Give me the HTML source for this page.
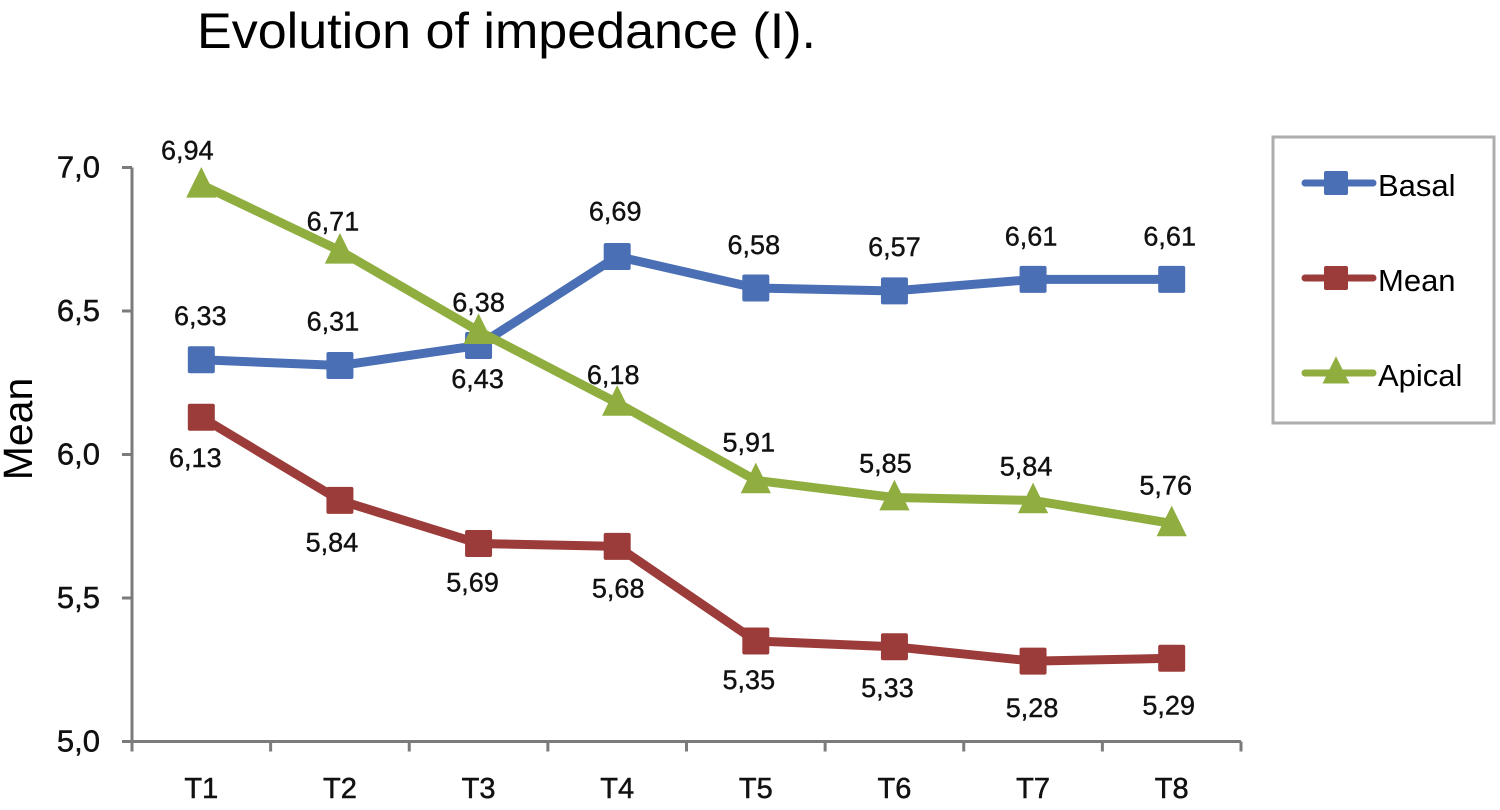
<!DOCTYPE html>
<html>
<head>
<meta charset="utf-8">
<style>
html,body{margin:0;padding:0;background:#fff;width:1500px;height:810px;overflow:hidden}
svg{display:block}
text{font-family:"Liberation Sans",sans-serif;fill:#000}
.lbl{font-size:27px;fill:#111;stroke:#111;stroke-width:0.4px;text-anchor:middle}
.tick{fill:#111;stroke:#111;stroke-width:0.5px}
</style>
</head>
<body>
<svg id="chart" width="1500" height="810" viewBox="0 0 1500 810">
<text x="197" y="48" font-size="50" textLength="619" lengthAdjust="spacingAndGlyphs">Evolution of impedance (I).</text>
<text transform="translate(32,429) rotate(-90)" font-size="41" text-anchor="middle">Mean</text>
<g id="plot"></g>
<rect x="1273" y="137" width="221" height="286" fill="#fff" stroke="#adadad" stroke-width="3"/>
<g id="legend"></g>
</svg>
<script>
var categories = ["T1","T2","T3","T4","T5","T6","T7","T8"];
var yTicks = [5.0,5.5,6.0,6.5,7.0];
var yTickLabels = ["5,0","5,5","6,0","6,5","7,0"];
var basalValues = [6.33,6.31,6.38,6.69,6.58,6.57,6.61,6.61];
var meanValues = [6.13,5.84,5.69,5.68,5.35,5.33,5.28,5.29];
var apicalValues = [6.94,6.71,6.43,6.18,5.91,5.85,5.84,5.76];
var basalLabels = ["6,33","6,31","6,38","6,69","6,58","6,57","6,61","6,61"];
var meanLabels = ["6,13","5,84","5,69","5,68","5,35","5,33","5,28","5,29"];
var apicalLabels = ["6,94","6,71","6,43","6,18","5,91","5,85","5,84","5,76"];

var NS = "http://www.w3.org/2000/svg";
var plot = document.getElementById("plot");
var legend = document.getElementById("legend");
var left = 132, right = 1241, top7 = 167.5, bottom5 = 741.5;
var band = (right - left) / categories.length;
function xPos(i){ return left + band * (i + 0.5); }
function yPos(v){ return bottom5 - (v - 5) * (bottom5 - top7) / 2; }

function mk(parent, tag, attrs){
  var el = document.createElementNS(NS, tag);
  for (var k in attrs) el.setAttribute(k, attrs[k]);
  parent.appendChild(el);
  return el;
}
function marker(parent, kind, cx, cy, color, size){
  if (kind === "square") {
    return mk(parent, "rect", {x:cx-size/2, y:cy-size/2, width:size, height:size, rx:2, fill:color});
  }
  var h = size * 1.06;
  return mk(parent, "polygon", {points:(cx)+","+(cy-h*0.62)+" "+(cx+size*0.56)+","+(cy+h*0.45)+" "+(cx-size*0.56)+","+(cy+h*0.45), fill:color});
}

var axisColor = "#7b7b7b";
var yAxisLine = mk(plot, "line", {x1:left, y1:top7, x2:left, y2:bottom5+10, stroke:axisColor, "stroke-width":3});


var xAxisLine = mk(plot, "line", {x1:left-10, y1:bottom5, x2:right, y2:bottom5, stroke:axisColor, "stroke-width":3});



yTicks.forEach(function(t, i){
  var y = yPos(t);
  var tick = mk(plot, "line", {x1:left-10, y1:y, x2:left, y2:y, stroke:axisColor, "stroke-width":3});
  
  
  var txt = mk(plot, "text", {"class":"tick", x:100, y:y+10, "font-size":31, "text-anchor":"end"});
  txt.textContent = yTickLabels[i];
  
  
});
for (var b = 0; b <= categories.length; b++) {
  var bx = left + band * b;
  var xt = mk(plot, "line", {x1:bx, y1:bottom5, x2:bx, y2:bottom5+10, stroke:axisColor, "stroke-width":3});
  
  
}
categories.forEach(function(c, i){
  var txt = mk(plot, "text", {"class":"tick", x:xPos(i), y:798, "font-size":29, "text-anchor":"middle"});
  txt.textContent = c;
  
  
});

var seriesList = [
  {name:"basal", title:"Basal", values:basalValues, labels:basalLabels, color:"#4a6fb5", kind:"square", dx:[-1,-7,0,-2,-2,0,-2,-2], dy:[-35,-35,-34,-36,-34,-35,-34,-34]},
  {name:"mean", title:"Mean", values:meanValues, labels:meanLabels, color:"#9c3c3a", kind:"square", dx:[-6,-8,-6,1,-7,-7,-1,-3], dy:[50,51,48,51,48,50,56,56]},
  {name:"apical", title:"Apical", values:apicalValues, labels:apicalLabels, color:"#8fae3f", kind:"triangle", dx:[-14,-7,-1,-4,-7,-9,-7,-6], dy:[-25,-20,57,-19,-29,-25,-25,-29]}
];

seriesList.forEach(function(s){
  var g = mk(plot, "g", {});
  
  
  var pts = s.values.map(function(v, i){ return xPos(i) + "," + yPos(v); }).join(" ");
  var line = mk(g, "polyline", {points:pts, fill:"none", stroke:s.color, "stroke-width":9, "stroke-linejoin":"round"});
  
  
  s.values.forEach(function(v, i){
    var m = marker(g, s.kind, xPos(i), yPos(v), s.color, 27);
    
    
  });
});
seriesList.forEach(function(s){
  s.values.forEach(function(v, i){
    var t = mk(plot, "text", {"class":"lbl", x:xPos(i)+s.dx[i], y:yPos(v)+s.dy[i]});
    t.textContent = s.labels[i];
    
    
  });
});

seriesList.forEach(function(s, i){
  var ly = 183 + i * 95;
  var g = mk(legend, "g", {});
  
  
  mk(g, "line", {x1:1305, y1:ly, x2:1373, y2:ly, stroke:s.color, "stroke-width":7, "stroke-linecap":"round"});
  marker(g, s.kind, 1336, ly + (s.kind === "triangle" ? -1 : 0), s.color, 24);
  var t = mk(g, "text", {x:1378, y:ly+13, "font-size":31});
  t.textContent = s.title;
  
  
});
</script>
</body>
</html>
